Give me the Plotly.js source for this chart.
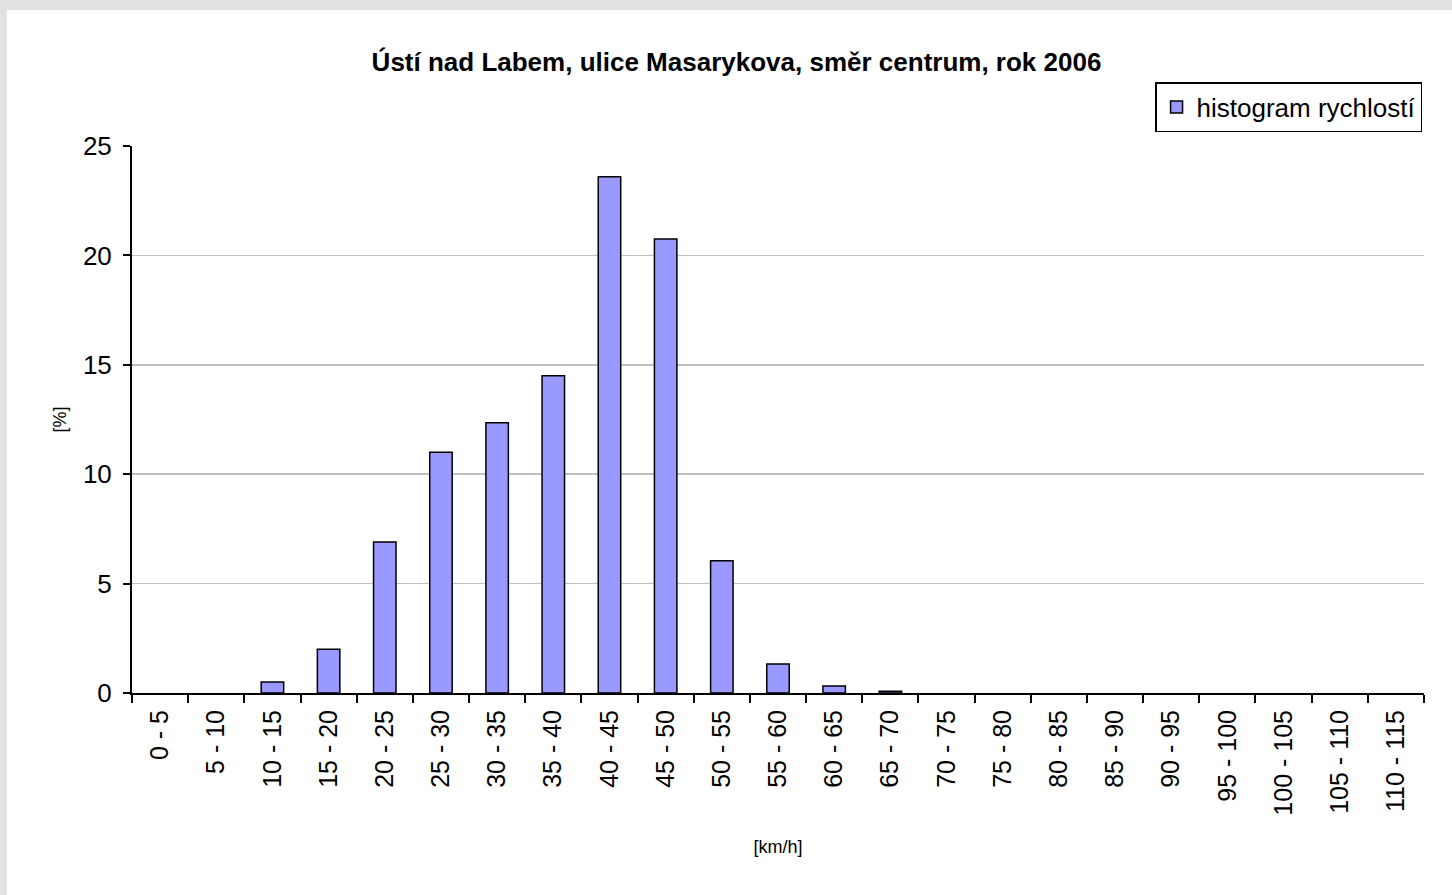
<!DOCTYPE html>
<html>
<head>
<meta charset="utf-8">
<script src="https://cdn.plot.ly/plotly-3.0.1.min.js"></script>
<style>
  html, body { margin: 0; padding: 0; width: 1452px; height: 895px; overflow: hidden; background: #e2e2e2; }
  #chart { position: absolute; left: 7px; top: 10px; width: 1445px; height: 885px; }
</style>
</head>
<body>
<div id="chart"></div>
<script>
const chartTitle = "Ústí nad Labem, ulice Masarykova, směr centrum, rok 2006";
const seriesName = "histogram rychlostí";
const xTitle = "[km/h]";
const yTitle = "[%]";
const categories = ["0 - 5","5 - 10","10 - 15","15 - 20","20 - 25","25 - 30","30 - 35","35 - 40","40 - 45","45 - 50","50 - 55","55 - 60","60 - 65","65 - 70","70 - 75","75 - 80","80 - 85","85 - 90","90 - 95","95 - 100","100 - 105","105 - 110","110 - 115"];
const percentValues = [0, 0, 0.5, 2.0, 6.9, 11.0, 12.35, 14.5, 23.6, 20.75, 6.05, 1.33, 0.32, 0.08, 0, 0, 0, 0, 0, 0, 0, 0, 0];
const yTickValues = [0, 5, 10, 15, 20, 25];

const fontFam = "'Liberation Sans', Arial, sans-serif";
const barColor = '#9999ff';

const trace = {
  type: 'bar',
  x: categories,
  y: percentValues,
  name: seriesName,
  showlegend: false,
  marker: {
    color: barColor,
    line: { color: '#000000', width: percentValues.map(v => v > 0 ? 1.5 : 0) }
  },
  hoverinfo: 'none'
};

// legend entry for the series (same style, draws no bar of its own)
const legendTrace = {
  type: 'bar',
  x: [categories[0]],
  y: [null],
  name: seriesName,
  showlegend: true,
  marker: { color: barColor, line: { color: '#000000', width: 1.5 } },
  hoverinfo: 'none'
};

const layout = {
  width: 1445,
  height: 885,
  paper_bgcolor: '#ffffff',
  plot_bgcolor: '#ffffff',
  margin: { l: 125, r: 28, t: 136, b: 202 },
  font: { family: fontFam, color: '#000000', size: 26 },
  title: {
    text: '<b>' + chartTitle + '</b>',
    font: { family: fontFam, size: 26, color: '#000000' },
    x: (736.5 - 7) / 1445, xref: 'container', xanchor: 'center',
    y: 1 - 52 / 885, yref: 'container', yanchor: 'middle'
  },
  barmode: 'overlay',
  bargap: 0.6,
  showlegend: true,
  legend: {
    x: 0.9985, xanchor: 'right', xref: 'paper',
    y: 1.117, yanchor: 'top', yref: 'paper',
    bgcolor: '#ffffff', bordercolor: '#000000', borderwidth: 1.5,
    font: { family: fontFam, size: 26, color: '#000000' },
    itemwidth: 30
  },
  xaxis: {
    type: 'category',
    categoryorder: 'array',
    categoryarray: categories,
    range: [-0.5, categories.length - 0.5],
    tickangle: -90,
    tickson: 'boundaries',
    ticks: 'outside', ticklen: 8, tickwidth: 2, tickcolor: '#000000',
    ticklabelstandoff: 5,
    showline: true, linecolor: '#000000', linewidth: 2,
    showgrid: false, zeroline: false,
    tickfont: { family: fontFam, size: 25, color: '#000000' },
    title: { text: xTitle, font: { family: fontFam, size: 18, color: '#000000' }, standoff: 26 },
    fixedrange: true
  },
  yaxis: {
    range: [0, 25],
    tickvals: yTickValues,
    ticktext: yTickValues.map(String),
    ticks: 'outside', ticklen: 7, tickwidth: 2, tickcolor: '#000000',
    ticklabelstandoff: 6,
    showline: true, linecolor: '#000000', linewidth: 2,
    showgrid: true, gridcolor: '#c0c0c0', gridwidth: 1.5,
    zeroline: false,
    tickfont: { family: fontFam, size: 26, color: '#000000' },
    title: { text: yTitle, font: { family: fontFam, size: 18, color: '#000000' }, standoff: 12 },
    fixedrange: true
  }
};

Plotly.newPlot('chart', [trace, legendTrace], layout, { displayModeBar: false, staticPlot: true });
</script>
</body>
</html>
